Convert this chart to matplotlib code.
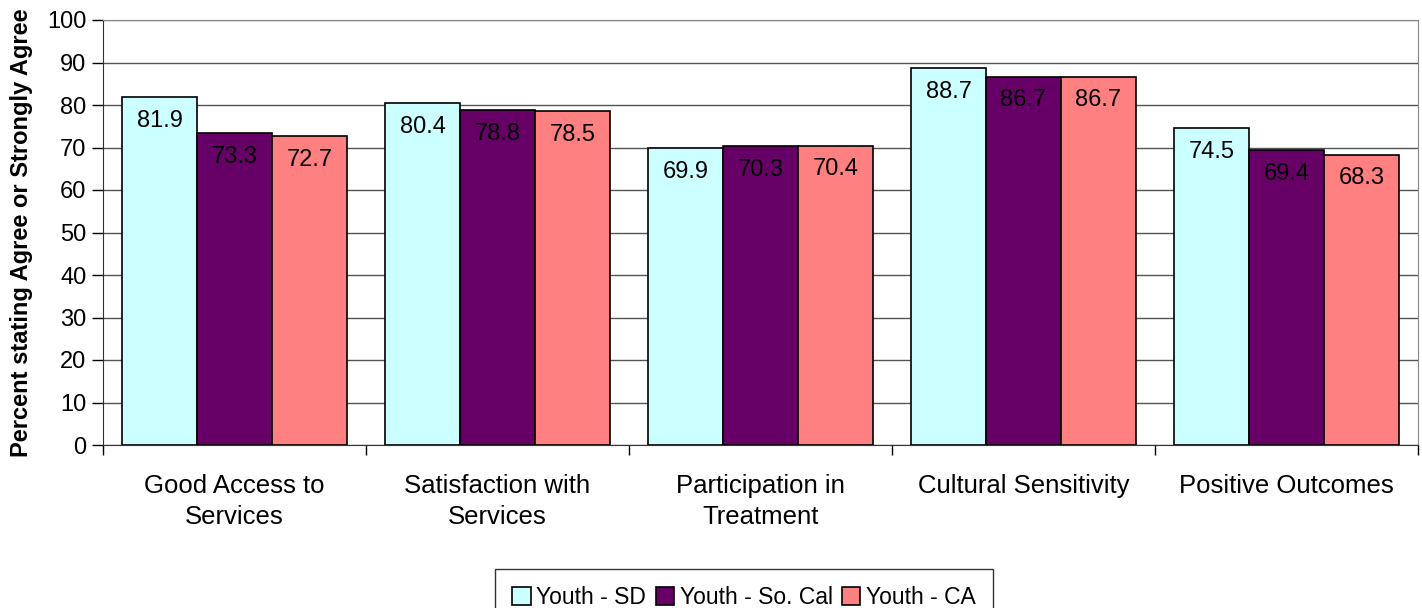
import matplotlib.pyplot as plt
import numpy as np

categories = ["Good Access to\nServices", "Satisfaction with\nServices",
              "Participation in\nTreatment", "Cultural Sensitivity",
              "Positive Outcomes"]
youth_sd = [81.9, 80.4, 69.9, 88.7, 74.5]
youth_socal = [73.3, 78.8, 70.3, 86.7, 69.4]
youth_ca = [72.7, 78.5, 70.4, 86.7, 68.3]
series_names = ["Youth - SD", "Youth - So. Cal", "Youth - CA"]
colors = ["#CCFFFF", "#660066", "#FF8080"]

plt.rcParams['font.family'] = ['Liberation Sans', 'DejaVu Sans']

fig = plt.figure(figsize=(14.22, 6.08), dpi=100)
ax = fig.add_axes([103/1422, 1-445/608, (1418-103)/1422, (445-20)/608])

x = np.arange(len(categories))
w = 0.285
for i, (vals, name, col) in enumerate(zip([youth_sd, youth_socal, youth_ca], series_names, colors)):
	bars = ax.bar(x + (i-1)*w, vals, w, color=col, edgecolor='black', linewidth=1.2, label=name, zorder=3)
	for b, v in zip(bars, vals):
		ax.annotate("%.1f" % v, (b.get_x()+b.get_width()/2, v), xytext=(0, -17),
			textcoords='offset points', ha='center', va='center', fontsize=17, zorder=4)

ax.set_xlim(-0.5, len(categories)-0.5)
ax.set_ylim(0, 100)
ax.set_yticks(range(0, 101, 10))
ax.yaxis.grid(True, color='#555555', linewidth=1, zorder=0)
ax.tick_params(axis='y', labelsize=17, length=8, direction='out', width=1, pad=4)
ax.set_xticks(np.arange(-0.5, len(categories), 1))
ax.set_xticklabels([])
ax.tick_params(axis='x', length=7, width=1)
for xi, c in zip(x, categories):
	ax.text(xi, -6.8, c, ha='center', va='top', fontsize=18.5, linespacing=1.4)
for s in ['top', 'right']:
	ax.spines[s].set_color('#888888')
ax.spines['left'].set_color('#333333')
ax.spines['bottom'].set_color('#333333')
ax.set_ylabel("Percent stating Agree or Strongly Agree", fontsize=17, fontweight='bold', labelpad=10)

leg = fig.legend(loc='upper center', bbox_to_anchor=(744/1422, 1-569/608), ncol=3, fontsize=16.5,
	frameon=True, fancybox=False, edgecolor='black', handlelength=0.8, handleheight=0.8,
	handletextpad=0.25, columnspacing=0.4, borderpad=0.75, borderaxespad=0)
leg.get_frame().set_linewidth(1)

fig.savefig("out.png", dpi=100)
